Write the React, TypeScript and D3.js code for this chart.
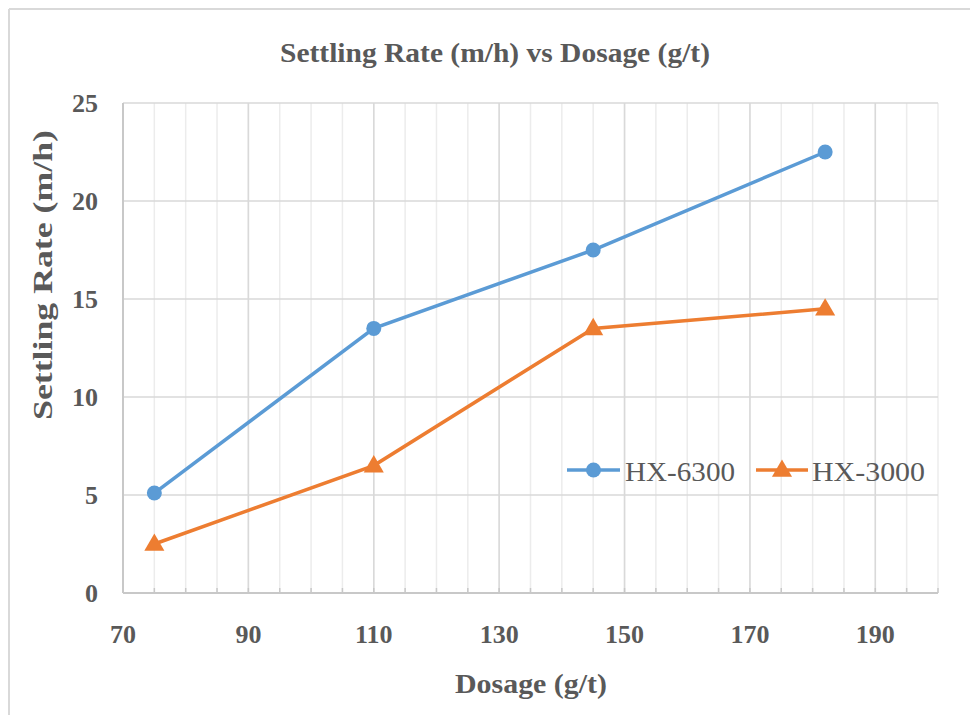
import React from "react";
import * as d3 from "d3";

const dosage = [75, 110, 145, 182];
const hx6300 = [5.1, 13.5, 17.5, 22.5];
const hx3000 = [2.5, 6.5, 13.5, 14.5];
const xTicks = [70, 90, 110, 130, 150, 170, 190];
const yTicks = [0, 5, 10, 15, 20, 25];
const seriesNames = ["HX-6300", "HX-3000"];

const W = 970;
const H = 715;
const M = { left: 123, right: 938, top: 103, bottom: 593 };
const BLUE = "#5B9BD5";
const ORANGE = "#ED7D31";
const TXT = "#595959";
const FONT = "'Liberation Serif', 'Times New Roman', serif";

export default function App() {
  const x = d3.scaleLinear().domain([70, 200]).range([M.left, M.right]);
  const y = d3.scaleLinear().domain([0, 25]).range([M.bottom, M.top]);
  const minor = d3.range(70, 201, 5);
  const major = d3.range(70, 201, 20);
  const line = d3
    .line<[number, number]>()
    .x((d) => x(d[0]))
    .y((d) => y(d[1]));
  const d1 = dosage.map((d, i) => [d, hx6300[i]] as [number, number]);
  const d2 = dosage.map((d, i) => [d, hx3000[i]] as [number, number]);
  const tri = d3.symbol().type(d3.symbolTriangle).size(175)();

  const legY = 470;
  return (
    <svg
      width={W}
      height={H}
      style={{ position: "absolute", left: 0, top: 0, background: "#fff" }}
    >
      <rect x={0} y={0} width={W} height={H} fill="#fff" />
      <line x1={9} y1={9} x2={W} y2={9} stroke="#d9d9d9" strokeWidth={2} />
      <line x1={9} y1={9} x2={9} y2={H} stroke="#d9d9d9" strokeWidth={2} />
      <text
        x={495}
        y={62}
        textAnchor="middle"
        fontFamily={FONT}
        fontWeight="bold"
        fontSize={27}
        fill={TXT}
        textLength={430}
        lengthAdjust="spacingAndGlyphs"
      >
        Settling Rate (m/h) vs Dosage (g/t)
      </text>
      {minor.map((v) => (
        <line
          key={"mn" + v}
          x1={x(v)}
          x2={x(v)}
          y1={M.top}
          y2={M.bottom}
          stroke="#ececec"
          strokeWidth={1.5}
        />
      ))}
      {major.map((v) => (
        <line
          key={"mj" + v}
          x1={x(v)}
          x2={x(v)}
          y1={M.top}
          y2={M.bottom}
          stroke="#d9d9d9"
          strokeWidth={1.5}
        />
      ))}
      {yTicks.map((v) => (
        <line
          key={"hy" + v}
          x1={M.left}
          x2={M.right}
          y1={y(v)}
          y2={y(v)}
          stroke="#d9d9d9"
          strokeWidth={1.5}
        />
      ))}
      {minor.map((v) => (
        <line
          key={"tk" + v}
          x1={x(v)}
          x2={x(v)}
          y1={M.bottom - 5}
          y2={M.bottom}
          stroke="#c8c8c8"
          strokeWidth={1.5}
        />
      ))}
      <line x1={M.left} x2={M.left} y1={M.top} y2={M.bottom} stroke="#c8c8c8" strokeWidth={2} />
      <line x1={M.left} x2={M.right} y1={M.bottom} y2={M.bottom} stroke="#c8c8c8" strokeWidth={2} />
      {yTicks.map((v) => (
        <text
          key={"yl" + v}
          x={M.left - 25}
          y={y(v) + 9}
          textAnchor="end"
          fontFamily={FONT}
          fontWeight="bold"
          fontSize={26}
          fill={TXT}
        >
          {v}
        </text>
      ))}
      {xTicks.map((v) => (
        <text
          key={"xl" + v}
          x={x(v)}
          y={643}
          textAnchor="middle"
          fontFamily={FONT}
          fontWeight="bold"
          fontSize={26}
          fill={TXT}
        >
          {v}
        </text>
      ))}
      <text
        x={531}
        y={693}
        textAnchor="middle"
        fontFamily={FONT}
        fontWeight="bold"
        fontSize={28}
        fill={TXT}
        textLength={152}
        lengthAdjust="spacingAndGlyphs"
      >
        Dosage (g/t)
      </text>
      <text
        transform={`translate(52,${275}) rotate(-90)`}
        textAnchor="middle"
        fontFamily={FONT}
        fontWeight="bold"
        fontSize={28}
        fill={TXT}
        textLength={290}
        lengthAdjust="spacingAndGlyphs"
      >
        Settling Rate (m/h)
      </text>
      <path d={line(d1) || ""} fill="none" stroke={BLUE} strokeWidth={3.5} />
      <path d={line(d2) || ""} fill="none" stroke={ORANGE} strokeWidth={3.5} />
      {d1.map((d, i) => (
        <circle key={"c" + i} cx={x(d[0])} cy={y(d[1])} r={7.5} fill={BLUE} />
      ))}
      {d2.map((d, i) => (
        <path
          key={"t" + i}
          d={tri || ""}
          transform={`translate(${x(d[0])},${y(d[1]) + 1})`}
          fill={ORANGE}
        />
      ))}
      <line x1={567} x2={620} y1={legY} y2={legY} stroke={BLUE} strokeWidth={3.5} />
      <circle cx={593.5} cy={legY} r={7.5} fill={BLUE} />
      <text x={625} y={legY + 11} fontFamily={FONT} fontSize={28} fill={TXT} textLength={110} lengthAdjust="spacingAndGlyphs">
        {seriesNames[0]}
      </text>
      <line x1={756} x2={808} y1={legY} y2={legY} stroke={ORANGE} strokeWidth={3.5} />
      <path d={tri || ""} transform={`translate(782,${legY + 1})`} fill={ORANGE} />
      <text x={812} y={legY + 11} fontFamily={FONT} fontSize={28} fill={TXT} textLength={113} lengthAdjust="spacingAndGlyphs">
        {seriesNames[1]}
      </text>
    </svg>
  );
}
